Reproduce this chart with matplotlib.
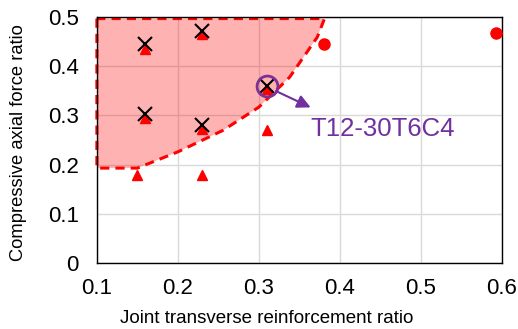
import matplotlib.pyplot as plt
from matplotlib.patches import Polygon

plt.rcParams['font.family'] = ['Liberation Sans', 'DejaVu Sans']

# specimens (joint transverse reinforcement ratio, axial force ratio)
tri_x = [0.16, 0.23, 0.16, 0.23, 0.31, 0.15, 0.23, 0.31]
tri_y = [0.435, 0.465, 0.295, 0.272, 0.354, 0.179, 0.179, 0.27]
cross_x = [0.16, 0.23, 0.16, 0.23, 0.31]
cross_y = [0.445, 0.472, 0.303, 0.28, 0.36]
dot_x = [0.38, 0.593]
dot_y = [0.445, 0.467]

# shaded zone boundary
zone_x = [0.1, 0.1, 0.15, 0.2, 0.256, 0.30, 0.338, 0.372, 0.381]
zone_y = [0.497, 0.193, 0.193, 0.226, 0.27, 0.317, 0.378, 0.459, 0.497]

hl_x, hl_y = 0.31, 0.36
hl_label = 'T12-30T6C4'

fig = plt.figure(figsize=(5.18, 3.29), dpi=100)
ax = fig.add_axes([0.187, 0.2006, 0.782, 0.7474])

ax.add_patch(Polygon(list(zip(zone_x, zone_y)), closed=True, facecolor='#FF0000',
                     alpha=0.3, edgecolor='none', zorder=1))
ax.add_patch(Polygon(list(zip(zone_x, zone_y)), closed=True, fill=False,
                     edgecolor='#FF0000', lw=2.2, ls=(0, (3, 2)), zorder=2,
                     clip_on=False))

ax.plot(tri_x, tri_y, '^', color='#FF0000', ms=7, ls='none', zorder=3)
ax.plot(dot_x, dot_y, 'o', color='#FF0000', ms=8, ls='none', zorder=3)
ax.plot(cross_x, cross_y, 'x', color='black', ms=10, mew=1.5, ls='none', zorder=4)
ax.plot(hl_x, hl_y, 'o', mfc='none', mec='#7B3294', ms=15, mew=2, zorder=5)

ax.annotate('', xy=(0.367, 0.314), xytext=(0.318, 0.352),
            arrowprops=dict(arrowstyle='-|>', color='#7030A0', lw=1.5,
                            mutation_scale=20), zorder=5)
ax.text(0.363, 0.272, hl_label, color='#7030A0', fontsize=18.5, va='center', ha='left')

ax.set_xlim(0.1, 0.6)
ax.set_ylim(0, 0.5)
ax.set_xticks([0.1, 0.2, 0.3, 0.4, 0.5, 0.6])
ax.set_yticks([0, 0.1, 0.2, 0.3, 0.4, 0.5])
ax.set_xticklabels(['0.1', '0.2', '0.3', '0.4', '0.5', '0.6'])
ax.set_yticklabels(['0', '0.1', '0.2', '0.3', '0.4', '0.5'])
ax.tick_params(labelsize=16, length=0)
ax.tick_params(axis='y', pad=13)
ax.tick_params(axis='x', pad=11)
ax.grid(color='#D9D9D9', lw=1)
ax.set_axisbelow(True)
for s in ax.spines.values():
    s.set_color('black')
    s.set_linewidth(1)

ax.set_xlabel('Joint transverse reinforcement ratio', fontsize=13.5)
ax.xaxis.set_label_coords(0.42, -0.19)
ax.set_ylabel('Compressive axial force ratio', fontsize=13.2)
ax.yaxis.set_label_coords(-0.173, 0.49)

fig.savefig('out.png', dpi=100)
